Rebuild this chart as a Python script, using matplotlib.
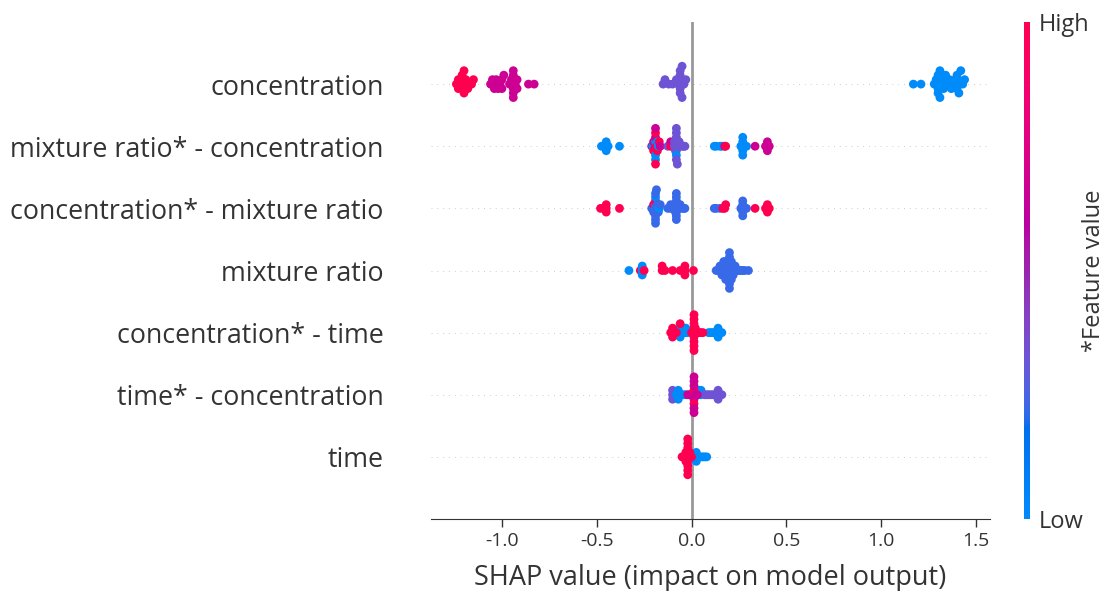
import numpy as np
import matplotlib
matplotlib.use("Agg")
import matplotlib.pyplot as plt
from matplotlib.colors import LinearSegmentedColormap

plt.rcParams['font.family'] = ['Open Sans', 'DejaVu Sans']

# feature value levels (normalised 0..1 for colouring)
B, V, P, M, R = 0.0, 0.22, 0.33, 0.67, 1.0

features = ['concentration', 'mixture ratio* - concentration', 'concentration* - mixture ratio',
            'mixture ratio', 'concentration* - time', 'time* - concentration', 'time']

#%% data (shap values + feature values)
conc_shap = [-1.24, -1.23, -1.23, -1.22, -1.22, -1.21, -1.21, -1.20, -1.20, -1.19, -1.19, -1.18, -1.16, -1.15,
             -1.06, -1.05, -1.04, -1.03, -1.03, -1.02, -1.01, -1.00, -1.00, -0.99, -0.96, -0.95, -0.95,
             -0.94, -0.94, -0.94, -0.94, -0.94, -0.93, -0.92, -0.92, -0.86, -0.83,
             -0.15, -0.14, -0.12, -0.10, -0.08, -0.07, -0.06, -0.06, -0.06, -0.06, -0.06, -0.05, -0.05,
             -0.04, -0.03,
             1.17, 1.21, 1.28, 1.29, 1.30, 1.30, 1.30, 1.30, 1.30, 1.31, 1.31, 1.32, 1.33, 1.33, 1.34,
             1.35, 1.36, 1.37, 1.38, 1.39, 1.40, 1.40, 1.40, 1.40, 1.41, 1.42, 1.43, 1.44]
conc_val = [R]*14 + [M]*23 + [P]*15 + [B]*28

mrc_shap = [-0.475, -0.45, -0.45, -0.45, -0.44, -0.38,
            -0.21, -0.205, -0.20, -0.20, -0.19, -0.19, -0.19, -0.19, -0.19, -0.19, -0.19, -0.19, -0.19,
            -0.185, -0.18, -0.18, -0.175, -0.17, -0.165,
            -0.125, -0.11, -0.11, -0.10, -0.09, -0.09, -0.085, -0.08, -0.08, -0.08, -0.08, -0.08, -0.08,
            -0.08, -0.08, -0.075, -0.07, -0.065, -0.06, -0.05, -0.04, -0.035,
            0.12, 0.13, 0.15, 0.16, 0.175, 0.18, 0.26, 0.27, 0.27, 0.27, 0.27, 0.27, 0.28, 0.29,
            0.335, 0.39, 0.40, 0.40, 0.40, 0.41]
mrc_val = [B]*6 + [M, B, M, R, M, B, R, M, B, R, B, M, R, R, B, R, B, R, M] \
    + [P, R, M, R, P, P, P, P, P, P, P, B, P, P, P, P, P, P, P, P, P, P] \
    + [B, B, B, B, M, R, B, B, B, B, B, B, B, B, M, M, M, M, M, M]

cmr_shap = [-0.48, -0.46, -0.45, -0.45, -0.45, -0.38,
            -0.21, -0.205, -0.20, -0.20, -0.19, -0.19, -0.19, -0.19, -0.19, -0.19, -0.19, -0.19, -0.19,
            -0.185, -0.18, -0.18, -0.175, -0.17, -0.165,
            -0.125, -0.11, -0.11, -0.10, -0.09, -0.09, -0.085, -0.08, -0.08, -0.08, -0.08, -0.08, -0.08,
            -0.08, -0.08, -0.075, -0.07, -0.065, -0.06, -0.05, -0.04, -0.035,
            0.12, 0.13, 0.15, 0.165, 0.175, 0.18, 0.26, 0.27, 0.27, 0.27, 0.27, 0.27, 0.28, 0.29,
            0.335, 0.39, 0.40, 0.40, 0.40, 0.41]
cmr_val = [R]*6 + [V, V, R, V, B, V, V, R, V, B, V, V, V, V, V, V, V, B, V] + [V]*22 \
    + [V, V, V, R, R, R, V, V, V, V, V, V, V, V, R, R, R, R, R, R]

mr_shap = [-0.33, -0.27, -0.26, -0.26, -0.26, -0.25,
           -0.155, -0.155, -0.14, -0.10, -0.06, -0.035, -0.035, -0.035, 0.01,
           0.13, 0.14, 0.15, 0.15, 0.16, 0.16, 0.16, 0.17, 0.17, 0.17, 0.17, 0.18, 0.18, 0.18, 0.18,
           0.18, 0.19, 0.19, 0.19, 0.19, 0.19, 0.20, 0.20, 0.20, 0.20, 0.20, 0.20, 0.20, 0.20, 0.20,
           0.21, 0.21, 0.21, 0.21, 0.21, 0.22, 0.22, 0.22, 0.23, 0.23, 0.24, 0.25, 0.26, 0.27, 0.28, 0.30]
mr_val = [B, R, B, B, B, R] + [R]*9 + [V]*46

ct_shap = [-0.07, -0.06, -0.06, -0.06, -0.05, -0.04, -0.03, -0.03, -0.02,
           -0.11, -0.10, -0.10, -0.10, -0.09, -0.08, -0.06,
           0.09, 0.10, 0.11, 0.12, 0.14, 0.14, 0.14, 0.15, 0.16,
           0.0, 0.005, 0.01, 0.013, 0.013, 0.013, 0.013, 0.013, 0.013, 0.013, 0.013, 0.013,
           0.02, 0.02, 0.025, 0.03, 0.04, 0.05, 0.06]
ct_val = [B]*9 + [R]*7 + [B]*9 + [R]*19

tc_shap = [-0.10, -0.10, -0.10, -0.09,
           -0.08, -0.07, -0.07, -0.07, -0.06, -0.05, -0.04, -0.03,
           0.04, 0.04, 0.05, 0.05,
           0.07, 0.08, 0.09, 0.10, 0.11, 0.12, 0.14, 0.14, 0.14, 0.15, 0.16,
           -0.02, -0.01, 0.0, 0.005, 0.013, 0.013, 0.013, 0.013, 0.013, 0.013, 0.013, 0.013, 0.013,
           0.02, 0.03]
tc_val = [P]*4 + [B]*8 + [B]*4 + [P]*11 + [M, M, M, M, M, R, M, M, R, M, M, M, M, M, M]

time_shap = [0.02, 0.025, 0.025, 0.025, 0.03, 0.035, 0.04, 0.05, 0.06, 0.07, 0.08,
             -0.05, -0.045, -0.04, -0.035, -0.03, -0.03, -0.03, -0.025,
             -0.02, -0.02, -0.02, -0.02, -0.02, -0.02, -0.02, -0.02, -0.02,
             -0.015, -0.01, -0.01, -0.005, 0.0]
time_val = [B]*11 + [R]*22

rows = [(conc_shap, conc_val), (mrc_shap, mrc_val), (cmr_shap, cmr_val), (mr_shap, mr_val),
        (ct_shap, ct_val), (tc_shap, tc_val), (time_shap, time_val)]


#%% shap-like red/blue colormap (lch interpolation)
def lch2rgb(l, c, h):
    a, b = c*np.cos(h), c*np.sin(h)
    fy = (l + 16)/116
    f = np.array([fy + a/500, fy, fy - b/200])
    t = np.where(f > 6/29, f**3, 3*(6/29)**2*(f - 4/29))
    xyz = t*np.array([0.95047, 1.0, 1.08883])
    mat = np.array([[3.2406, -1.5372, -0.4986], [-0.9689, 1.8758, 0.0415], [0.0557, -0.2040, 1.0570]])
    lin = mat @ xyz
    rgb = np.where(lin <= 0.0031308, 12.92*lin, 1.055*np.abs(lin)**(1/2.4) - 0.055)
    return np.clip(rgb, 0, 1)

nsteps = 100
l_vals = list(np.linspace(54, 40, nsteps//2)) + list(np.linspace(40, 54, nsteps//2))
c_vals = np.linspace(70, 90, nsteps)
h_vals = np.linspace(4.6588, 0.35470565 + 2*np.pi, nsteps)
red_blue = LinearSegmentedColormap.from_list(
    'red_blue', [lch2rgb(l, c, h) for l, c, h in zip(l_vals, c_vals, h_vals)])


def swarm(vals, row_height=0.4, nbins=100):
    # beeswarm offsets, same binning as shap's summary plot
    vals = np.asarray(vals, dtype=float)
    quant = np.round(nbins*(vals - vals.min())/(vals.max() - vals.min() + 1e-8))
    inds = np.argsort(quant, kind='stable')
    layer, last_bin = 0, -1
    ys = np.zeros(len(vals))
    for i in inds:
        if quant[i] != last_bin:
            layer = 0
        ys[i] = np.ceil(layer/2)*((layer % 2)*2 - 1)
        layer += 1
        last_bin = quant[i]
    ys *= 0.9*(row_height/np.max(ys + 1))
    return ys


#%% plot
W, H = 1110, 591
fig = plt.figure(figsize=(W/100, H/100), dpi=100)
ax = fig.add_axes([431/W, 1 - 519/H, 559/W, 497/H])
cax = fig.add_axes([1024/W, 1 - 519/H, 6/W, 497/H])

ax.axvline(0, color='#999999', lw=2, zorder=-1)
n = len(features)
for k, (shap, val) in enumerate(rows):
    pos = n - 1 - k
    ax.axhline(pos, color='#cccccc', lw=0.7, dashes=(1, 5), zorder=-1)
    ax.scatter(shap, pos + swarm(shap), c=val, cmap=red_blue, vmin=0, vmax=1,
               s=40, linewidth=0, alpha=1, zorder=3)

ax.set_ylim(-1, n)
ax.set_yticks(range(n))
ax.set_yticklabels(features[::-1], fontsize=19.3, color='#333333')
ax.tick_params('y', length=0, pad=34)
ax.tick_params('x', labelsize=14, color='#333333', labelcolor='#333333', length=6, width=1)
ax.set_xticks([-1.0, -0.5, 0.0, 0.5, 1.0, 1.5])
ax.set_xticklabels(['-1.0', '-0.5', '0.0', '0.5', '1.0', '1.5'])
ax.set_xlabel('SHAP value (impact on model output)', fontsize=19.5, color='#333333', labelpad=10)
for side in ['left', 'top', 'right']:
    ax.spines[side].set_visible(False)
ax.spines['bottom'].set_color('#333333')

grad = np.linspace(0, 1, 256).reshape(-1, 1)
cax.imshow(grad, aspect='auto', cmap=red_blue, origin='lower', extent=[0, 1, 0, 1])
cax.set_xticks([])
cax.yaxis.tick_right()
cax.set_yticks([0, 1])
cax.set_yticklabels(['Low', 'High'], fontsize=17, color='#333333')
cax.tick_params(length=0, pad=6)
cax.yaxis.set_label_position('right')
cax.set_ylabel('*Feature value', fontsize=17, color='#333333', labelpad=-5)
for s in cax.spines.values():
    s.set_visible(False)

plt.savefig('out.png', dpi=100)
